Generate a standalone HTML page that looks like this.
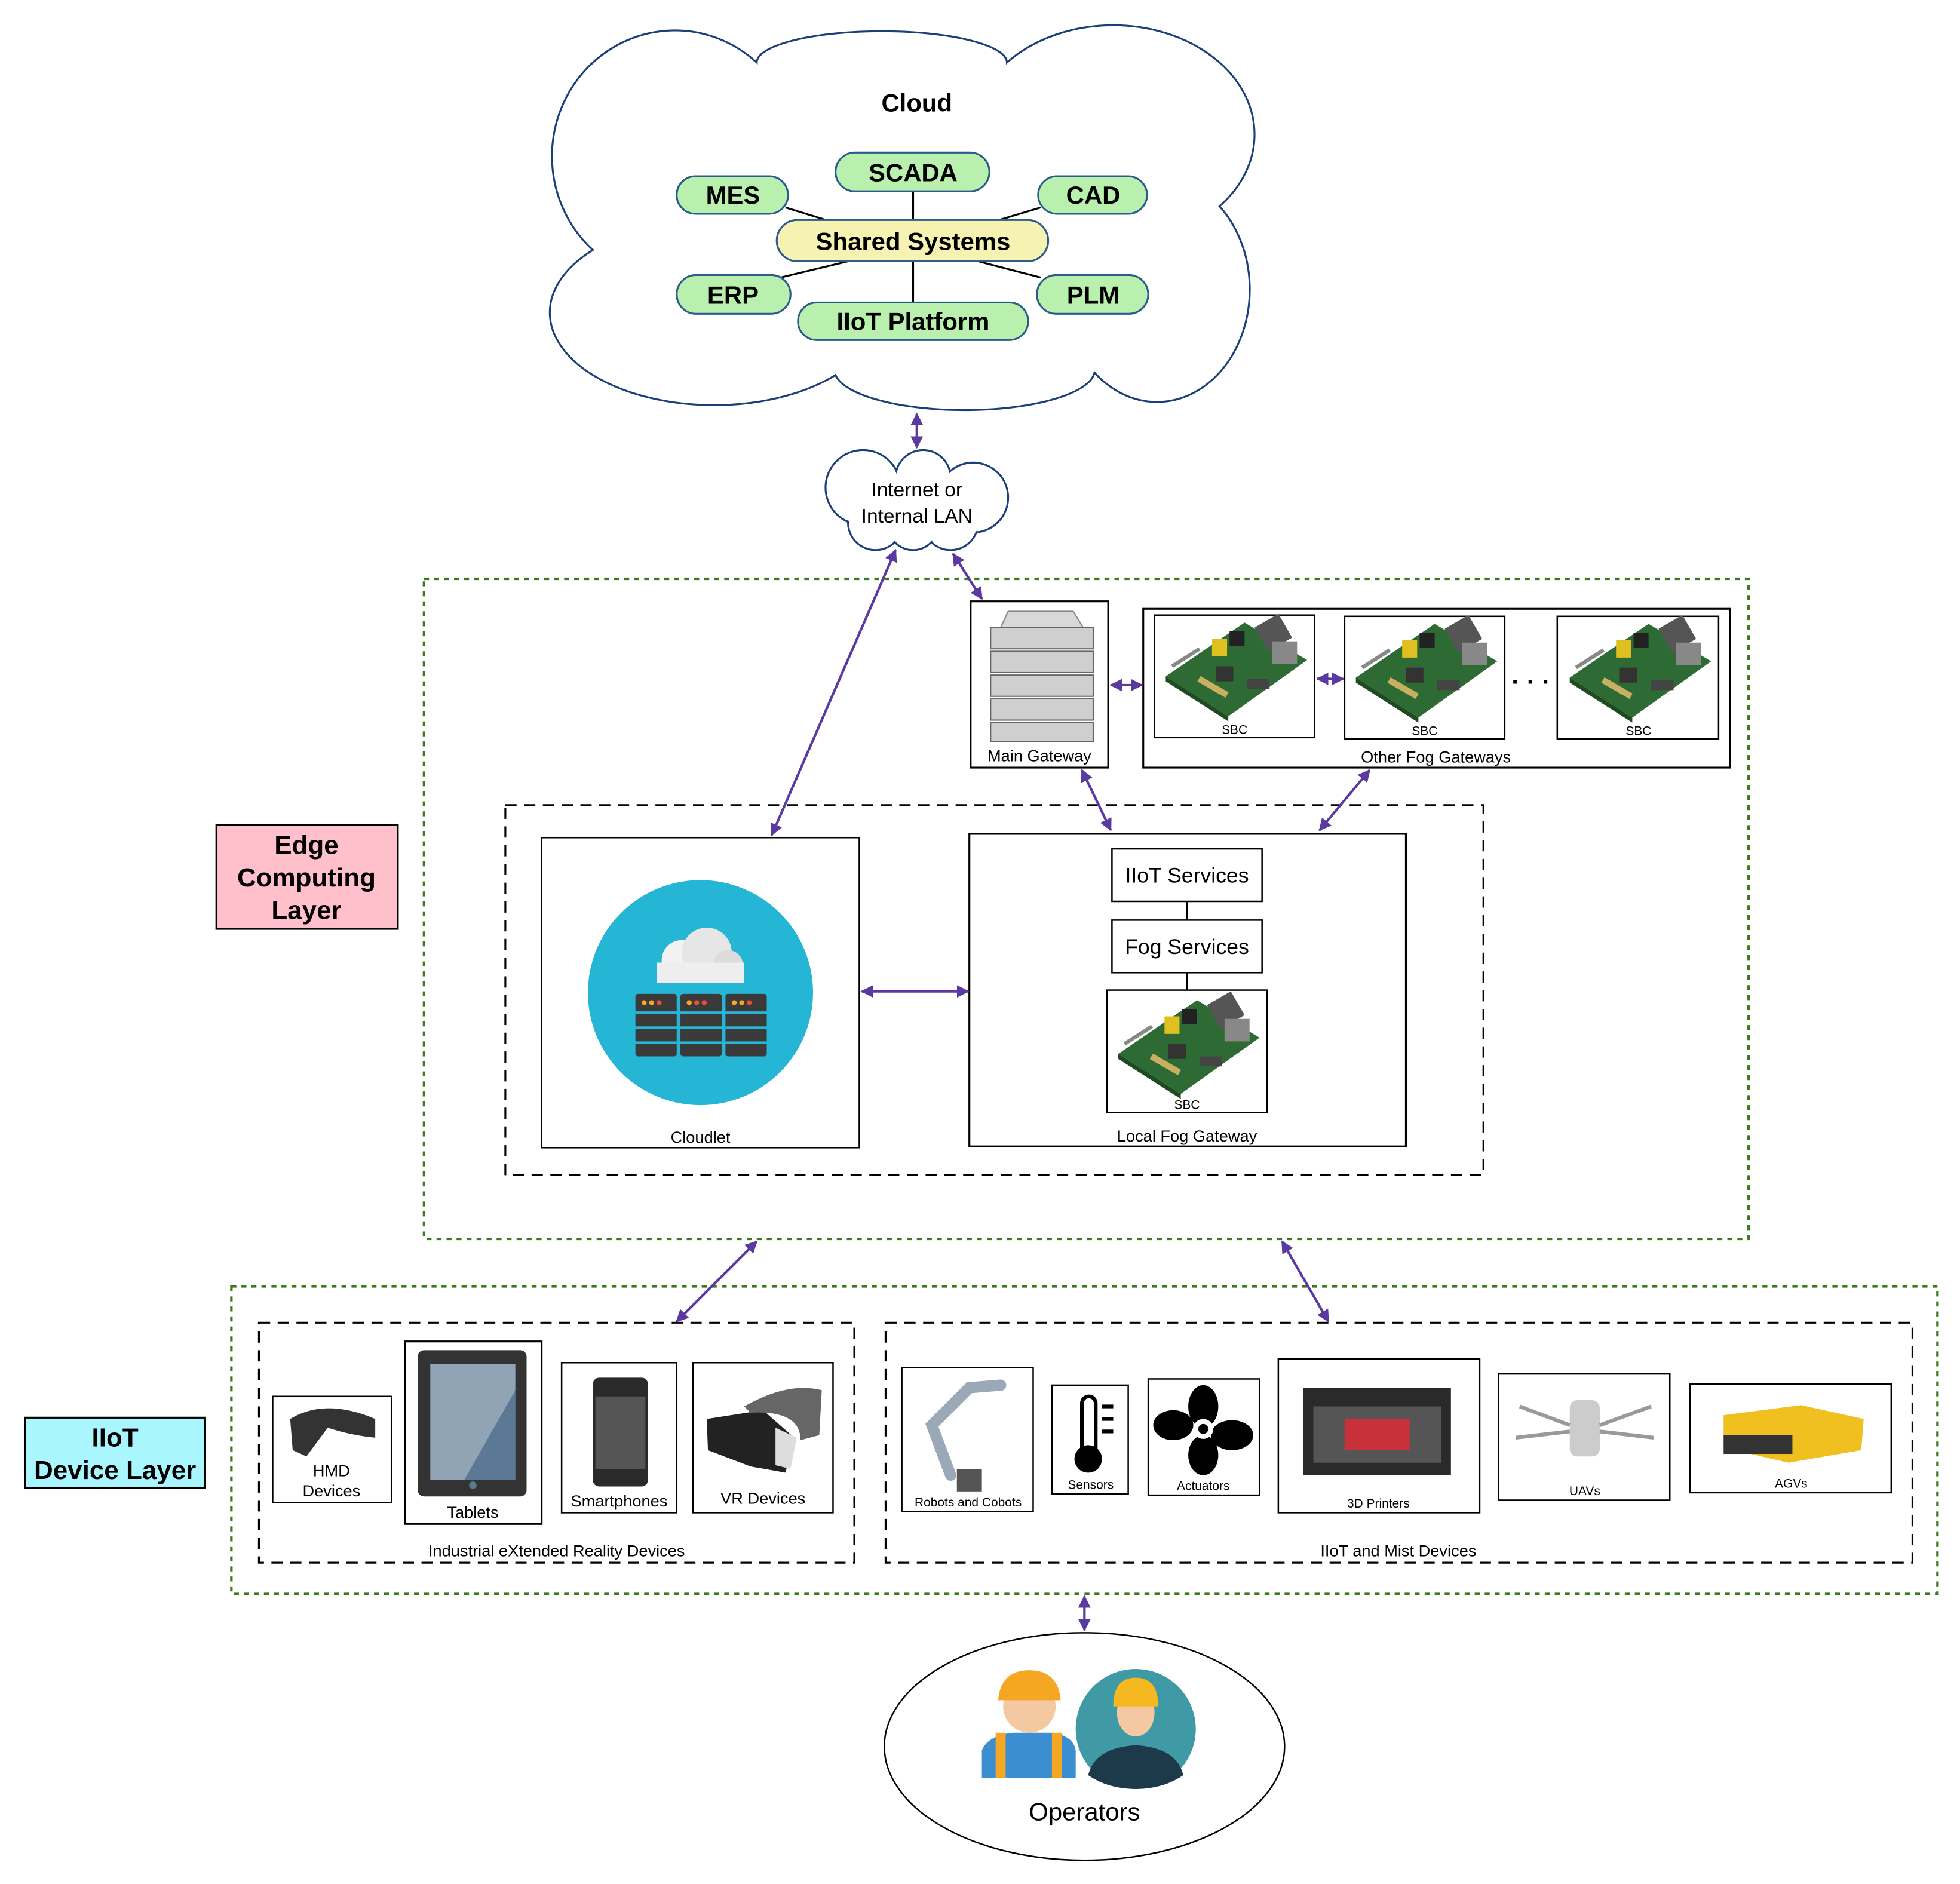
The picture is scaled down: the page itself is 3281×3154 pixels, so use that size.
<!DOCTYPE html>
<html><head><meta charset="utf-8"><style>
html,body{margin:0;padding:0;background:#fff}
svg{display:block}
text{font-family:"Liberation Sans",sans-serif}
</style></head><body>
<svg width="3281" height="3154" viewBox="0 0 1567 1507" preserveAspectRatio="none" xmlns="http://www.w3.org/2000/svg">
<defs>
<marker id="ah" viewBox="0 0 10 10" refX="9" refY="5" markerWidth="5" markerHeight="5" orient="auto-start-reverse"><path d="M0,0L10,5L0,10z" fill="#5a3aa0"/></marker>
<g id="pi">
<polygon points="-55,8 8,-35 58,-5 -5,40" fill="#2e6b34"/>
<polygon points="-55,8 -5,40 -5,44 -55,12" fill="#1f4a22"/>
<rect x="20" y="-38" width="22" height="22" fill="#555" transform="rotate(-30 31 -27)"/>
<rect x="30" y="-20" width="20" height="18" fill="#888"/>
<rect x="-18" y="-22" width="12" height="14" fill="#e0c020"/>
<rect x="-4" y="-28" width="12" height="12" fill="#222"/>
<rect x="-15" y="0" width="14" height="12" fill="#333"/>
<rect x="10" y="10" width="18" height="8" fill="#444"/>
<line x1="-50" y1="0" x2="-28" y2="-14" stroke="#888" stroke-width="3"/>
<rect x="-30" y="14" width="26" height="5" fill="#c8b060" transform="rotate(30 -17 16)"/>
</g>
</defs>

<!-- Big cloud -->
<path d="M474,200 A80,82 0 0 1 605,50 A100,25 0 0 1 805,50 A88,68 0 0 1 975,165 A70,85 0 0 1 875,298 A104,32 0 0 1 668,300 A110,62 0 0 1 474,200 Z" fill="#fff" stroke="#1c3f78" stroke-width="1.5"/>
<text x="733" y="89" font-size="20" font-weight="bold" text-anchor="middle">Cloud</text>

<g stroke="#000" stroke-width="1.5">
<line x1="730" y1="153" x2="730" y2="177"/>
<line x1="628" y1="166" x2="667" y2="178"/>
<line x1="832" y1="166" x2="792" y2="178"/>
<line x1="624" y1="222" x2="678" y2="209"/>
<line x1="832" y1="222" x2="782" y2="209"/>
<line x1="730" y1="242" x2="730" y2="209"/>
</g>
<g stroke="#2b5c8c" stroke-width="1.5" fill="#b9f0ad">
<rect x="668" y="122" width="123" height="31" rx="15.5"/>
<rect x="541" y="141" width="89" height="30" rx="15"/>
<rect x="830" y="141" width="87" height="30" rx="15"/>
<rect x="541" y="220" width="91" height="31" rx="15.5"/>
<rect x="829" y="220" width="89" height="31" rx="15.5"/>
<rect x="638" y="242" width="184" height="30" rx="15"/>
<rect x="621" y="176" width="217" height="33" rx="16.5" fill="#f6f3b2"/>
</g>
<g font-size="20" font-weight="bold" text-anchor="middle">
<text x="730" y="145">SCADA</text>
<text x="586" y="163">MES</text>
<text x="874" y="163">CAD</text>
<text x="730" y="200">Shared Systems</text>
<text x="586" y="243">ERP</text>
<text x="874" y="243">PLM</text>
<text x="730" y="264">IIoT Platform</text>
</g>

<!-- small cloud -->
<g stroke="#1c3f78" stroke-width="1.5" fill="#fff">
<circle cx="690" cy="390" r="30"/>
<circle cx="738" cy="382" r="22"/>
<circle cx="778" cy="398" r="28"/>
<circle cx="700" cy="418" r="22"/>
<circle cx="760" cy="418" r="22"/>
<circle cx="730" cy="420" r="20"/>
</g>
<g fill="#fff">
<circle cx="690" cy="390" r="29"/>
<circle cx="738" cy="382" r="21"/>
<circle cx="778" cy="398" r="27"/>
<circle cx="700" cy="418" r="21"/>
<circle cx="760" cy="418" r="21"/>
<circle cx="730" cy="420" r="19"/>
<rect x="690" y="385" width="85" height="30"/>
</g>
<text x="733" y="397" font-size="16" text-anchor="middle">Internet or</text>
<text x="733" y="418" font-size="16" text-anchor="middle">Internal LAN</text>

<!-- layer containers -->
<rect x="339" y="463" width="1059" height="528" fill="none" stroke="#3a7a1a" stroke-width="2" stroke-dasharray="4,4"/>
<rect x="185" y="1029" width="1364" height="246" fill="none" stroke="#3a7a1a" stroke-width="2" stroke-dasharray="4,4"/>

<rect x="173" y="660" width="145" height="83" fill="#ffc0cb" stroke="#000" stroke-width="1.5"/>
<g font-size="21" font-weight="bold" text-anchor="middle">
<text x="245" y="683">Edge</text>
<text x="245" y="709">Computing</text>
<text x="245" y="735">Layer</text>
</g>
<rect x="20" y="1134" width="144" height="56" fill="#aaf6ff" stroke="#000" stroke-width="1.5"/>
<g font-size="21" font-weight="bold" text-anchor="middle">
<text x="92" y="1157">IIoT</text>
<text x="92" y="1183">Device Layer</text>
</g>

<!-- edge inner -->
<rect x="404" y="644" width="782" height="296" fill="none" stroke="#000" stroke-width="1.5" stroke-dasharray="9,6"/>
<rect x="433" y="670" width="254" height="248" fill="#fff" stroke="#000" stroke-width="1.2"/>
<circle cx="560" cy="794" r="90" fill="#25b5d5"/>
<g>
<circle cx="545" cy="768" r="16" fill="#f2f2f2"/><circle cx="565" cy="762" r="20" fill="#e6e6e6"/><circle cx="582" cy="772" r="12" fill="#dcdcdc"/><rect x="525" y="770" width="70" height="16" fill="#eee"/>
<g fill="#3a3a3a"><rect x="508" y="795" width="33" height="50" rx="2"/><rect x="544" y="795" width="33" height="50" rx="2"/><rect x="580" y="795" width="33" height="50" rx="2"/></g>
<g stroke="#25b5d5" stroke-width="2"><line x1="506" y1="810" x2="615" y2="810"/><line x1="506" y1="822" x2="615" y2="822"/><line x1="506" y1="834" x2="615" y2="834"/></g>
<g fill="#f5a623"><circle cx="515" cy="802" r="2"/><circle cx="521" cy="802" r="2"/><circle cx="551" cy="802" r="2"/><circle cx="557" cy="802" r="2" fill="#e74c3c"/><circle cx="587" cy="802" r="2"/><circle cx="593" cy="802" r="2"/><circle cx="527" cy="802" r="2" fill="#e74c3c"/><circle cx="599" cy="802" r="2" fill="#e74c3c"/><circle cx="563" cy="802" r="2" fill="#e74c3c"/></g>
</g>
<text x="560" y="914" font-size="13" text-anchor="middle">Cloudlet</text>

<rect x="775" y="667" width="349" height="250" fill="#fff" stroke="#000" stroke-width="1.5"/>
<line x1="949" y1="721" x2="949" y2="736" stroke="#000"/>
<line x1="949" y1="778" x2="949" y2="792" stroke="#000"/>
<rect x="889" y="679" width="120" height="42" fill="#fff" stroke="#000" stroke-width="1.2"/>
<rect x="889" y="736" width="120" height="42" fill="#fff" stroke="#000" stroke-width="1.2"/>
<text x="949" y="706" font-size="17" text-anchor="middle">IIoT Services</text>
<text x="949" y="763" font-size="17" text-anchor="middle">Fog Services</text>
<rect x="885" y="792" width="128" height="98" fill="#fff" stroke="#000" stroke-width="1.2"/>
<use href="#pi" x="949" y="835"/>
<text x="949" y="887" font-size="10" text-anchor="middle">SBC</text>
<text x="949" y="913" font-size="13" text-anchor="middle">Local Fog Gateway</text>

<!-- main gateway -->
<rect x="776" y="481" width="110" height="133" fill="#fff" stroke="#000" stroke-width="1.5"/>
<path d="M800,502 L806,489 L858,489 L866,502 Z" fill="#d8d8d8" stroke="#888"/>
<g fill="#cfcfcf" stroke="#666">
<rect x="792" y="502" width="82" height="17"/><rect x="792" y="521" width="82" height="17"/><rect x="792" y="540" width="82" height="17"/><rect x="792" y="559" width="82" height="17"/><rect x="792" y="578" width="82" height="15"/>
</g>
<text x="831" y="609" font-size="13" text-anchor="middle">Main Gateway</text>

<rect x="914" y="487" width="469" height="127" fill="#fff" stroke="#000" stroke-width="1.5"/>
<rect x="923" y="492" width="128" height="98" fill="#fff" stroke="#000" stroke-width="1.2"/>
<rect x="1075" y="493" width="128" height="98" fill="#fff" stroke="#000" stroke-width="1.2"/>
<rect x="1245" y="493" width="129" height="98" fill="#fff" stroke="#000" stroke-width="1.2"/>
<use href="#pi" x="987" y="533"/>
<use href="#pi" x="1139" y="534"/>
<use href="#pi" x="1310" y="534"/>
<g font-size="10" text-anchor="middle"><text x="987" y="587">SBC</text><text x="1139" y="588">SBC</text><text x="1310" y="588">SBC</text></g>
<text x="1224" y="552" font-size="20" font-weight="bold" text-anchor="middle">· · ·</text>
<text x="1148" y="610" font-size="13" text-anchor="middle">Other Fog Gateways</text>

<!-- device layer -->
<rect x="207" y="1058" width="476" height="192" fill="none" stroke="#000" stroke-width="1.5" stroke-dasharray="9,6"/>
<text x="445" y="1245" font-size="13" text-anchor="middle">Industrial eXtended Reality Devices</text>
<rect x="218" y="1117" width="95" height="85" fill="#fff" stroke="#000" stroke-width="1.2"/>
<path d="M232,1135 Q260,1118 300,1135 L300,1150 Q280,1148 262,1142 L245,1165 L234,1160 Z" fill="#333"/>
<text x="265" y="1181" font-size="13" text-anchor="middle">HMD</text>
<text x="265" y="1197" font-size="13" text-anchor="middle">Devices</text>
<rect x="324" y="1073" width="109" height="146" fill="#fff" stroke="#000" stroke-width="1.5"/>
<rect x="334" y="1080" width="87" height="117" rx="5" fill="#333"/>
<rect x="344" y="1091" width="68" height="93" fill="#90a4b6"/>
<polygon points="412,1112 412,1184 371,1184" fill="#5b7994"/>
<circle cx="378" cy="1188" r="3" fill="#5b7994"/>
<text x="378" y="1214" font-size="13" text-anchor="middle">Tablets</text>
<rect x="449" y="1090" width="92" height="120" fill="#fff" stroke="#000" stroke-width="1.2"/>
<rect x="474" y="1102" width="44" height="87" rx="5" fill="#2a2a2a"/>
<rect x="476" y="1117" width="40" height="58" fill="#555"/>
<text x="495" y="1205" font-size="13" text-anchor="middle">Smartphones</text>
<rect x="554" y="1090" width="112" height="120" fill="#fff" stroke="#000" stroke-width="1.2"/>
<path d="M565,1135 L610,1128 L635,1150 L628,1178 L600,1173 L566,1160 Z" fill="#222"/>
<path d="M595,1125 Q630,1105 657,1112 L655,1148 L640,1152 Q640,1128 600,1130 Z" fill="#666"/>
<path d="M620,1142 L637,1150 L632,1175 L620,1172 Z" fill="#ddd"/>
<text x="610" y="1203" font-size="13" text-anchor="middle">VR Devices</text>

<rect x="708" y="1058" width="821" height="192" fill="none" stroke="#000" stroke-width="1.5" stroke-dasharray="9,6"/>
<text x="1118" y="1245" font-size="13" text-anchor="middle">IIoT and Mist Devices</text>
<rect x="721" y="1094" width="105" height="115" fill="#fff" stroke="#000" stroke-width="1.2"/>
<g stroke="#9aa8b8" stroke-width="9" stroke-linecap="round" fill="none"><path d="M760,1180 L745,1140 L775,1110 L800,1108"/></g>
<rect x="765" y="1175" width="20" height="18" fill="#555"/>
<text x="774" y="1205" font-size="10" text-anchor="middle">Robots and Cobots</text>
<rect x="841" y="1108" width="61" height="87" fill="#fff" stroke="#000" stroke-width="1.2"/>
<rect x="865" y="1117" width="11" height="50" rx="5.5" fill="#fff" stroke="#000" stroke-width="3"/>
<circle cx="870" cy="1167" r="11" fill="#000"/>
<g stroke="#000" stroke-width="3"><line x1="881" y1="1125" x2="890" y2="1125"/><line x1="881" y1="1135" x2="890" y2="1135"/><line x1="881" y1="1145" x2="890" y2="1145"/></g>
<text x="872" y="1191" font-size="10" text-anchor="middle">Sensors</text>
<rect x="918" y="1103" width="89" height="93" fill="#fff" stroke="#000" stroke-width="1.2"/>
<g fill="#000">
<ellipse cx="962" cy="1125" rx="12" ry="17"/><ellipse cx="985" cy="1148" rx="17" ry="12"/><ellipse cx="962" cy="1164" rx="12" ry="16"/><ellipse cx="938" cy="1140" rx="16" ry="12"/>
</g>
<circle cx="962" cy="1143" r="8" fill="#fff"/><circle cx="962" cy="1143" r="4" fill="#000"/>
<text x="962" y="1192" font-size="10" text-anchor="middle">Actuators</text>
<rect x="1022" y="1087" width="161" height="123" fill="#fff" stroke="#000" stroke-width="1.2"/>
<rect x="1042" y="1110" width="118" height="70" fill="#2a2a2a"/>
<rect x="1050" y="1125" width="102" height="45" fill="#555"/>
<rect x="1075" y="1135" width="52" height="25" fill="#c8303a"/>
<text x="1102" y="1206" font-size="10" text-anchor="middle">3D Printers</text>
<rect x="1198" y="1099" width="137" height="101" fill="#fff" stroke="#000" stroke-width="1.2"/>
<rect x="1255" y="1120" width="24" height="45" rx="6" fill="#ccc"/>
<g stroke="#999" stroke-width="3"><line x1="1215" y1="1125" x2="1255" y2="1140"/><line x1="1320" y1="1125" x2="1279" y2="1140"/><line x1="1212" y1="1150" x2="1255" y2="1145"/><line x1="1322" y1="1150" x2="1279" y2="1145"/></g>
<text x="1267" y="1196" font-size="10" text-anchor="middle">UAVs</text>
<rect x="1351" y="1107" width="161" height="87" fill="#fff" stroke="#000" stroke-width="1.2"/>
<polygon points="1378,1132 1440,1124 1490,1135 1488,1160 1430,1170 1378,1158" fill="#f0c020"/>
<rect x="1378" y="1148" width="55" height="15" fill="#333"/>
<text x="1432" y="1190" font-size="10" text-anchor="middle">AGVs</text>

<!-- operators -->
<ellipse cx="867" cy="1397" rx="160" ry="91" fill="#fff" stroke="#000" stroke-width="1.2"/>
<path d="M785,1422 L785,1400 Q790,1388 810,1386 L840,1386 Q858,1388 860,1400 L860,1422 Z" fill="#3b8fd0"/>
<rect x="796" y="1386" width="8" height="36" fill="#f5a623"/><rect x="841" y="1386" width="8" height="36" fill="#f5a623"/>
<circle cx="823" cy="1365" r="21" fill="#f4c8a0"/>
<path d="M798,1360 Q800,1336 823,1336 Q846,1336 848,1360 Z" fill="#f5a623"/>
<circle cx="908" cy="1383" r="48" fill="#3f9aa6"/>
<path d="M870,1420 Q875,1398 908,1396 Q941,1398 946,1420 Q930,1431 908,1431 Q886,1431 870,1420 Z" fill="#1c3a4a"/>
<ellipse cx="908" cy="1370" rx="15" ry="19" fill="#f4c8a0"/>
<path d="M890,1365 Q890,1342 908,1342 Q926,1342 926,1365 Z" fill="#f5b820"/>
<text x="867" y="1456" font-size="20" text-anchor="middle">Operators</text>

<!-- arrows -->
<g stroke="#5a3aa0" stroke-width="2" fill="none" marker-start="url(#ah)" marker-end="url(#ah)">
<line x1="733" y1="331" x2="733" y2="358"/>
<line x1="716" y1="440" x2="617" y2="668"/>
<line x1="762" y1="443" x2="785" y2="479"/>
<line x1="888" y1="548" x2="913" y2="548"/>
<line x1="1053" y1="543" x2="1074" y2="543"/>
<line x1="865" y1="616" x2="888" y2="664"/>
<line x1="1095" y1="616" x2="1055" y2="664"/>
<line x1="689" y1="793" x2="774" y2="793"/>
<line x1="605" y1="993" x2="541" y2="1057"/>
<line x1="1025" y1="993" x2="1062" y2="1057"/>
<line x1="867" y1="1277" x2="867" y2="1304"/>
</g>
</svg>
</body></html>
